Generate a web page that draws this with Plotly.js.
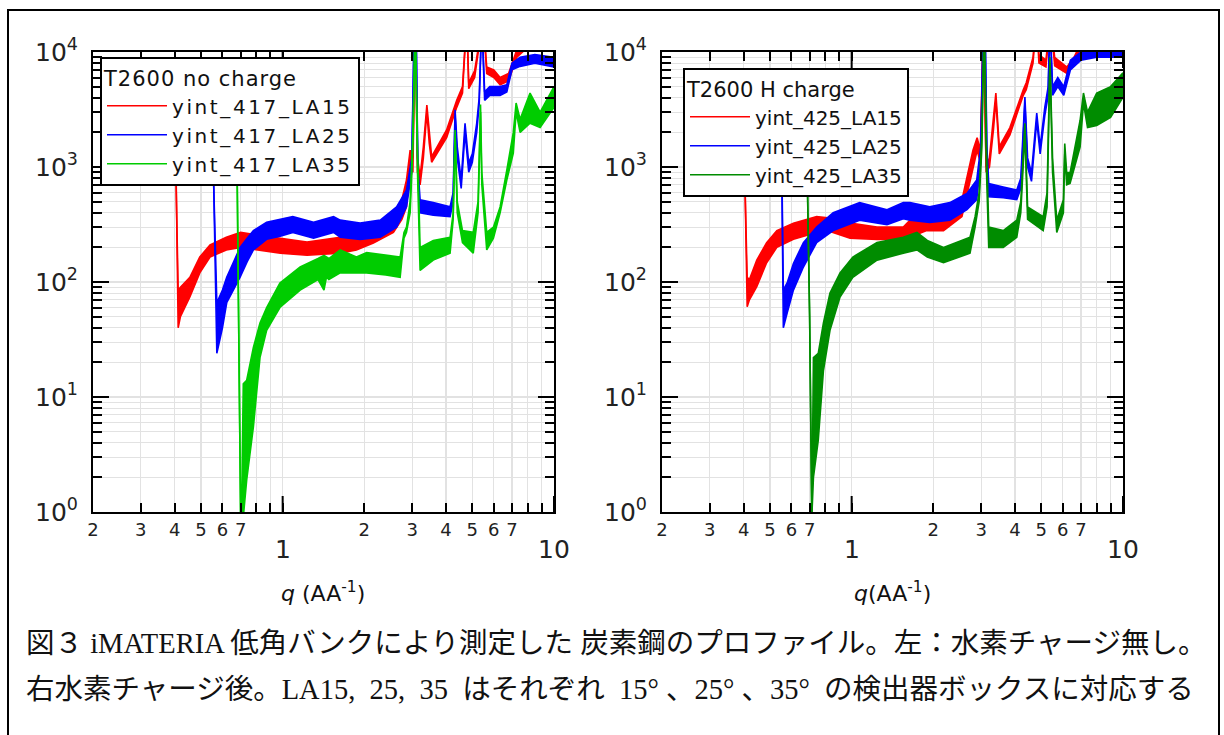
<!DOCTYPE html>
<html>
<head>
<meta charset="utf-8">
<script src="https://cdn.plot.ly/plotly-3.0.1.min.js"></script>
<style>
html,body{margin:0;padding:0;background:#fff;}
#chart{width:1224px;height:735px;}
text.legendtext{letter-spacing:2.6px !important;}
text.legendtitletext{letter-spacing:1px !important;}
</style>
</head>
<body>
<div id="chart"></div>
<script>
// ---------- tick definitions ----------
const xTickVals   = [0.2,0.3,0.4,0.5,0.6,0.7,2,3,4,5,6,7];
const xTickLabels = ['2','3','4','5','6','7','2','3','4','5','6','7'];
const xMinorTicks = [0.8,0.9,8,9];
const xMajorTicks = [1,10];
const xMajorLabels = ['1','10'];
const yMajorTicks  = [1,10,100,1000,10000];
const yMajorLabels = ['10<sup>0</sup>','10<sup>1</sup>','10<sup>2</sup>','10<sup>3</sup>','10<sup>4</sup>'];
const yMinorTicks  = [2,3,4,5,6,7,8,9,20,30,40,50,60,70,80,90,200,300,400,500,600,700,800,900,2000,3000,4000,5000,6000,7000,8000,9000];

// ---------- left panel: T2600 no charge (upper / lower envelope of noisy trace) ----------
const q417_15  = [0.400,0.405,0.412,0.42,0.455,0.495,0.54,0.62,0.70,0.82,0.98,1.23,1.63,1.87,2.16,2.56,2.75,2.86,2.95,3.02,3.08,3.14,3.21,3.30,3.40,3.47,3.54,4.02,4.38,4.60,4.77,4.85,5.10,5.48,5.65,6.0,6.33,6.8,7.3,8.0,10];
const hi417_15 = [3000,800,85,90,110,165,210,245,270,255,240,223,245,255,300,400,520,770,1400,1200,20000,1200,820,1500,3450,2000,1230,2100,3800,5000,20000,5400,6900,20000,7400,7000,6000,6500,10500,12000,12000];
const lo417_15 = [3000,800,40,50,74,120,165,190,200,190,178,171,178,190,218,270,350,450,1000,900,20000,900,700,1200,3000,1600,1100,1800,3300,4400,20000,4800,6000,20000,6500,6000,5200,5600,9000,11000,11000];

const q417_25  = [0.553,0.557,0.572,0.60,0.622,0.66,0.697,0.74,0.78,0.873,0.98,1.09,1.30,1.54,1.63,1.93,2.29,2.63,2.86,2.99,3.06,3.10,3.15,3.21,3.59,4.14,4.25,4.32,4.40,4.55,4.70,4.85,5.0,5.19,5.30,5.42,5.55,5.8,6.33,6.7,7.0,7.5,8.5,10];
const hi417_25 = [3000,700,66,85,110,150,200,240,280,330,350,370,330,370,345,325,345,450,630,1200,20000,20000,1000,520,490,450,600,3150,1500,770,2400,1080,1300,2400,4000,20000,4500,5000,5000,5200,8000,9000,9500,9000];
const lo417_25 = [3000,700,24,40,66,85,110,150,190,235,250,270,240,270,245,235,245,300,450,900,20000,20000,800,400,380,370,500,2800,1200,650,2000,900,1100,2000,3500,20000,3800,4200,4200,4500,7000,7500,8000,7400];

const q417_35  = [0.676,0.690,0.700,0.705,0.716,0.737,0.760,0.780,0.825,0.873,0.977,1.16,1.35,1.42,1.45,1.48,1.63,1.87,2.04,2.40,2.71,2.80,2.86,2.95,3.02,3.08,3.14,3.21,3.59,4.14,4.25,4.32,4.40,4.60,5.04,5.25,5.36,5.42,5.65,5.98,6.33,6.70,7.08,7.25,7.5,8.16,8.89,10];
const hi417_35 = [3000,50,0.9,0.9,13,14,20,27,44,60,98,135,160,170,165,160,190,165,180,170,165,270,300,500,2000,20000,1500,200,230,245,400,2100,500,280,270,500,3500,900,270,300,450,940,2000,3600,2600,4400,3000,5000];
const lo417_35 = [3000,50,0.9,0.9,0.9,1.9,3.5,5.5,22,38,60,85,105,85,110,105,120,120,120,115,110,240,270,400,1500,20000,900,126,155,178,350,1800,400,220,178,400,3000,700,190,240,400,770,1320,3000,2000,2400,2200,3300];

// ---------- right panel: T2600 H charge ----------
const q425_15  = [0.402,0.405,0.412,0.42,0.447,0.486,0.53,0.61,0.743,0.832,0.986,1.24,1.55,1.64,1.89,2.18,2.55,2.80,2.90,2.98,3.06,3.13,3.22,3.33,3.40,3.50,3.83,4.29,4.40,4.66,4.80,4.90,5.20,5.40,5.6,6.21,6.6,7.0,10];
const hi425_15 = [3000,600,110,105,155,220,280,325,370,360,325,300,300,345,370,400,520,1400,1800,1400,20000,1000,1200,2500,4400,1500,2200,4700,5400,9000,20000,9500,8500,20000,9000,7400,9000,12000,12000];
const lo425_15 = [3000,600,61,70,91,147,200,235,270,275,240,235,235,245,280,280,370,1000,1400,1100,20000,900,1000,2100,3800,1300,1900,4200,4700,8000,20000,8000,7400,20000,7600,6500,8000,11000,11000];

const q425_25  = [0.550,0.553,0.560,0.58,0.61,0.664,0.743,0.855,1.07,1.35,1.55,1.64,1.94,2.30,2.66,2.89,2.99,3.06,3.10,3.15,3.20,3.62,4.06,4.20,4.35,4.45,4.60,4.81,4.95,5.15,5.30,5.38,5.50,5.75,6.05,6.4,7.0,8.0,10];
const hi425_25 = [3000,600,85,100,145,220,300,400,490,425,490,490,450,490,590,770,1500,20000,20000,1500,720,670,630,800,4050,1200,890,2950,1500,3300,5000,20000,5000,6000,5000,8500,10000,10500,10000];
const lo425_25 = [3000,600,40,55,85,135,220,280,345,315,355,345,330,345,425,520,1100,20000,20000,1100,550,540,520,650,3600,1000,750,2500,1300,2800,4200,20000,4200,5000,4200,7000,8500,9000,9000];

const q425_35  = [0.680,0.700,0.713,0.723,0.753,0.787,0.832,0.906,1.01,1.24,1.55,1.74,1.90,2.18,2.73,2.85,2.95,3.02,3.08,3.14,3.20,3.62,4.06,4.20,4.35,4.45,5.08,5.25,5.38,5.50,5.70,6.03,6.10,6.20,6.38,6.95,7.15,7.4,8.0,9.0,10];
const hi425_35 = [3000,50,0.9,22,24,44,80,120,165,220,245,270,230,200,245,370,600,2000,20000,1500,300,280,345,500,2400,450,370,600,9000,1200,345,520,1600,900,890,2550,4400,3000,4400,5000,6600];
const lo425_35 = [3000,50,0.9,2,4.2,17,38,74,110,155,178,190,165,147,178,300,500,1500,20000,900,200,200,245,400,2000,350,280,450,8000,900,270,400,1300,700,720,1500,3600,2200,2300,2700,4050];

const RED = '#ff0000', BLUE = '#0000ff', GREEN_L = '#00cc00', GREEN_R = '#008c00';

function band(q, hi, lo, color, name, xa, ya, leg) {
  return [
    {x:q, y:hi, mode:'lines', name:name, line:{color:color, width:1.6},
     xaxis:xa, yaxis:ya, legend:leg, hoverinfo:'skip'},
    {x:q, y:lo, mode:'lines', name:name, showlegend:false, line:{color:color, width:1.6},
     fill:'tonexty', fillcolor:color, xaxis:xa, yaxis:ya, legend:leg, hoverinfo:'skip'}
  ];
}

const data = [].concat(
  band(q417_15, hi417_15, lo417_15, RED,     'yint_417_LA15', 'x',  'y',  'legend'),
  band(q417_25, hi417_25, lo417_25, BLUE,    'yint_417_LA25', 'x',  'y',  'legend'),
  band(q417_35, hi417_35, lo417_35, GREEN_L, 'yint_417_LA35', 'x',  'y',  'legend'),
  band(q425_15, hi425_15, lo425_15, RED,     'yint_425_LA15', 'x2', 'y2', 'legend2'),
  band(q425_25, hi425_25, lo425_25, BLUE,    'yint_425_LA25', 'x2', 'y2', 'legend2'),
  band(q425_35, hi425_35, lo425_35, GREEN_R, 'yint_425_LA35', 'x2', 'y2', 'legend2')
);

const W = 1224, H = 735;
const FONT = 'DejaVu Sans, Arial, sans-serif';
const GRID = '#e2e2e2';
const xr = [Math.log10(0.2), 1];
const yr = [0, 4];
const yDom = [1 - 512/H, 1 - 52/H];
const xDomL = [93/W, 554/W];
const xDomR = [662/W, 1123/W];
const PLOT_H = 460;

function xAx(dom, anchor) {
  return {domain:dom, anchor:anchor, type:'log', range:xr, tickmode:'array',
    tickvals:xTickVals, ticktext:xTickLabels, ticks:'inside', ticklen:9, tickwidth:2,
    tickcolor:'#000', showline:true, linewidth:2, linecolor:'#000', mirror:'ticks',
    showgrid:true, gridcolor:GRID, gridwidth:1.2, zeroline:false,
    tickfont:{family:FONT, size:18, color:'#222'}, ticklabelstandoff:0,
    minor:{tickmode:'array', tickvals:xMinorTicks.concat(xMajorTicks), ticks:'inside',
      ticklen:9, tickwidth:2, tickcolor:'#000', showgrid:true, gridcolor:GRID, gridwidth:1.2}};
}
function yAx(dom, anchor) {
  return {domain:dom, anchor:anchor, type:'log', range:yr, tickmode:'array',
    tickvals:yMajorTicks, ticktext:yMajorLabels, ticks:'inside', ticklen:16, tickwidth:2,
    tickcolor:'#000', showline:true, linewidth:2, linecolor:'#000', mirror:'ticks',
    showgrid:true, gridcolor:GRID, gridwidth:1.2, zeroline:false,
    tickfont:{family:FONT, size:25, color:'#222'}, ticklabelstandoff:8,
    minor:{tickmode:'array', tickvals:yMinorTicks, ticks:'inside', ticklen:9, tickwidth:2,
      tickcolor:'#000', showgrid:true, gridcolor:GRID, gridwidth:1.2}};
}
function legendBox(px, py, title) {
  return {x:px/W, y:1-py/H, xanchor:'left', yanchor:'top', bgcolor:'#fff',
    bordercolor:'#000', borderwidth:2, font:{family:FONT, size:20, color:'#111'},
    title:{text:title, font:{family:FONT, size:21, color:'#111'}},
    itemwidth:60, tracegroupgap:0, traceorder:'normal'};
}

// axis titles, major x labels, long major x ticks, caption
const annotations = [];
const shapes = [];
[['x', 'y', '<i>q</i> (AA<sup>-1</sup>)', 322.5], ['x2', 'y2', '<i>q</i>(AA<sup>-1</sup>)', 892.5]].forEach(function(a) {
  xMajorTicks.forEach(function(v, i) {
    annotations.push({xref:a[0], yref:'paper', x:Math.log10(v), y:1-549/H, showarrow:false,
      xanchor:'center', yanchor:'middle', text:xMajorLabels[i], font:{family:FONT, size:25, color:'#222'}});
    shapes.push({type:'line', xref:a[0], yref:a[1] + ' domain', x0:v, x1:v, y0:0, y1:16/PLOT_H,
      line:{color:'#000', width:2}});
    shapes.push({type:'line', xref:a[0], yref:a[1] + ' domain', x0:v, x1:v, y0:1-16/PLOT_H, y1:1,
      line:{color:'#000', width:2}});
  });
  annotations.push({xref:'paper', yref:'paper', x:a[3]/W, y:1-592/H, showarrow:false,
    xanchor:'center', yanchor:'middle', text:a[2], font:{family:FONT, size:22, color:'#111'}});
});
const CAP = 'Liberation Serif, Noto Sans CJK JP, serif';
const NB = '\u00a0';
annotations.push({xref:'paper', yref:'paper', x:24/W, y:1-643/H, showarrow:false, xanchor:'left', yanchor:'middle',
  text:'図３ iMATERIA 低角バンクにより測定した 炭素鋼のプロファイル。左：水素チャージ無し。',
  font:{family:CAP, size:28.5, color:'#111'}});
annotations.push({xref:'paper', yref:'paper', x:24/W, y:1-689/H, showarrow:false, xanchor:'left', yanchor:'middle',
  text:'右水素チャージ後。LA15,' + NB + ' 25,' + NB + ' 35' + NB + ' はそれぞれ' + NB + ' 15°' + NB + '、25°' + NB + '、35°' + NB + ' の検出器ボックスに対応する',
  font:{family:CAP, size:28.5, color:'#111'}});
shapes.push({type:'rect', xref:'paper', yref:'paper', x0:8/W, x1:1219/W, y0:-0.1, y1:1-10/H,
  line:{color:'#000', width:2}, fillcolor:'rgba(0,0,0,0)', layer:'below'});

const layout = {
  width:W, height:H, margin:{l:0, r:0, t:0, b:0},
  paper_bgcolor:'#fff', plot_bgcolor:'#fff',
  font:{family:FONT, color:'#111'},
  xaxis: xAx(xDomL, 'y'),
  yaxis: yAx(yDom, 'x'),
  xaxis2: xAx(xDomR, 'y2'),
  yaxis2: yAx(yDom, 'x2'),
  legend: legendBox(100, 57, 'T2600 no charge'),
  legend2: legendBox(683, 68, 'T2600 H charge'),
  annotations: annotations,
  shapes: shapes
};

Plotly.newPlot('chart', data, layout, {staticPlot:true, displayModeBar:false});
</script>
</body>
</html>
